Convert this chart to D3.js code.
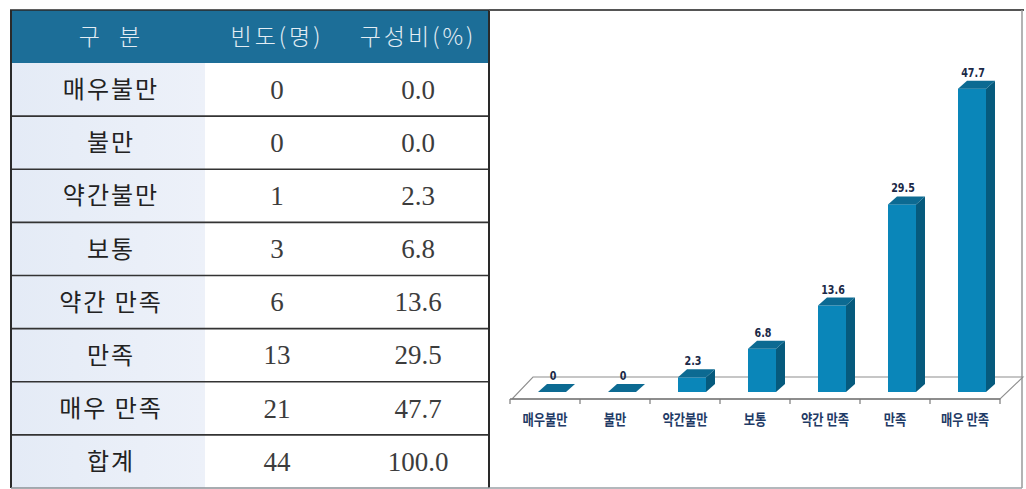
<!DOCTYPE html>
<html>
<head>
<meta charset="utf-8">
<script src="https://cdn.jsdelivr.net/npm/d3@7"></script>
<style>
  html, body { margin: 0; padding: 0; background: #ffffff; }
  svg { display: block; }
</style>
</head>
<body>
<svg id="chart" width="1026" height="489"></svg>
<script>
// ---------------- data ----------------
const categories = ["매우불만", "불만", "약간불만", "보통", "약간 만족", "만족", "매우 만족"];
const counts = [0, 0, 1, 3, 6, 13, 21];
const percents = [0.0, 0.0, 2.3, 6.8, 13.6, 29.5, 47.7];
const headers = ["구   분", "빈도(명)", "구성비(%)"];
const totalLabel = "합계";
const totalCount = 44;
const totalPercent = 100.0;

const keepSpaces = s => s.replace(/ /g, "\u00a0");

const svg = d3.select("#chart");

// ---------------- table ----------------
const tLeft = 11, tRight = 489, tTop = 10, headerBottom = 63, tBottom = 488;
const colEdges = [tLeft, 205, 347, tRight];
const colCenters = [110, 277, 418];

const rowNames = categories.concat([totalLabel]);
const rowCounts = counts.concat([totalCount]);
const rowPercents = percents.concat([totalPercent]);

const rowY = d3.scaleBand().domain(d3.range(rowNames.length)).range([headerBottom, tBottom]);

const table = svg.append("g");

// left column shading
const grad = svg.append("defs").append("linearGradient").attr("id", "colShade")
  .attr("x1", 0).attr("x2", 1).attr("y1", 0).attr("y2", 0);
grad.append("stop").attr("offset", "0%").attr("stop-color", "#e4ebf6");
grad.append("stop").attr("offset", "100%").attr("stop-color", "#edf1f9");

table.append("rect").attr("x", colEdges[0]).attr("y", headerBottom)
  .attr("width", colEdges[1] - colEdges[0]).attr("height", tBottom - headerBottom)
  .attr("fill", "url(#colShade)");

// header
table.append("rect").attr("x", tLeft).attr("y", tTop)
  .attr("width", tRight - tLeft).attr("height", headerBottom - tTop)
  .attr("fill", "#1c6e98");

table.selectAll("text.hdr").data(headers).join("text")
  .attr("class", "hdr")
  .attr("x", (d, i) => colCenters[i])
  .attr("y", (tTop + headerBottom) / 2)
  .attr("dy", "0.36em")
  .attr("text-anchor", "middle")
  .attr("font-family", "'Noto Sans CJK KR', sans-serif")
  .attr("font-size", 23)
  .attr("font-weight", 300)
  .attr("letter-spacing", (d, i) => i === 0 ? 1 : 3)
  .attr("fill", "#e3edf4")
  .text(d => keepSpaces(d));

// row separators
table.selectAll("line.sep").data(d3.range(1, rowNames.length)).join("line")
  .attr("class", "sep")
  .attr("x1", tLeft).attr("x2", tRight)
  .attr("y1", d => rowY(d)).attr("y2", d => rowY(d))
  .attr("stroke", "#333").attr("stroke-width", 1.6);

// row texts
const rows = table.selectAll("g.row").data(rowNames).join("g").attr("class", "row")
  .attr("transform", (d, i) => `translate(0,${rowY(i) + rowY.bandwidth() / 2})`);

rows.append("text")
  .attr("x", colCenters[0] + 1).attr("dy", "0.36em")
  .attr("text-anchor", "middle")
  .attr("font-family", "'Noto Sans CJK KR', sans-serif")
  .attr("font-size", 24).attr("font-weight", 400)
  .attr("letter-spacing", 2)
  .attr("fill", "#222")
  .text(d => keepSpaces(d));

rows.append("text")
  .attr("x", colCenters[1]).attr("dy", "0.34em")
  .attr("text-anchor", "middle")
  .attr("font-family", "'Liberation Serif', serif")
  .attr("font-size", 27)
  .attr("fill", "#3c3c3c")
  .text((d, i) => rowCounts[i]);

rows.append("text")
  .attr("x", colCenters[2]).attr("dy", "0.34em")
  .attr("text-anchor", "middle")
  .attr("font-family", "'Liberation Serif', serif")
  .attr("font-size", 27)
  .attr("fill", "#3c3c3c")
  .text((d, i) => rowPercents[i].toFixed(1));

// outer borders
table.append("line").attr("x1", tLeft).attr("x2", tLeft).attr("y1", tTop).attr("y2", tBottom)
  .attr("stroke", "#2a2a2a").attr("stroke-width", 2);
table.append("line").attr("x1", tRight).attr("x2", tRight).attr("y1", tTop).attr("y2", tBottom)
  .attr("stroke", "#2a2a2a").attr("stroke-width", 2);
table.append("line").attr("x1", tLeft).attr("x2", tRight).attr("y1", tBottom).attr("y2", tBottom)
  .attr("stroke", "#8a9096").attr("stroke-width", 1.5);
table.append("line").attr("x1", tLeft - 1).attr("x2", tRight).attr("y1", tTop).attr("y2", tTop)
  .attr("stroke", "#2a2a2a").attr("stroke-width", 1.5);

// chart panel border
const panel = svg.append("g");
panel.append("line").attr("x1", tRight).attr("x2", 1024).attr("y1", tTop).attr("y2", tTop)
  .attr("stroke", "#555").attr("stroke-width", 2);
panel.append("line").attr("x1", 1022).attr("x2", 1022).attr("y1", tTop).attr("y2", tBottom)
  .attr("stroke", "#9a9a9a").attr("stroke-width", 1.5);
panel.append("line").attr("x1", tRight).attr("x2", 1022).attr("y1", tBottom).attr("y2", tBottom)
  .attr("stroke", "#9aa0a6").attr("stroke-width", 1.5);

// ---------------- 3D bar chart ----------------
const x = d3.scaleBand().domain(categories).range([510, 1000]);
const baseY = 392;
const y = d3.scaleLinear().domain([0, 50]).range([baseY, 74]);

const floorFront = 399, floorDx = 23, floorDy = 22;
const [fx0, fx1] = x.range();

const chart = svg.append("g");

chart.append("polygon")
  .attr("points", [[fx0 + 2, floorFront], [fx1, floorFront], [fx1 + floorDx, floorFront - floorDy], [fx0 + floorDx, floorFront - floorDy]].map(p => p.join(",")).join(" "))
  .attr("fill", "#ffffff")
  .attr("stroke", "#8e8e8e")
  .attr("stroke-width", 1.1);

chart.append("line")
  .attr("x1", fx0).attr("x2", fx1).attr("y1", floorFront).attr("y2", floorFront)
  .attr("stroke", "#7a7a7a").attr("stroke-width", 1.6);

const tickXs = categories.map(c => x(c)).concat([fx1]);
chart.selectAll("line.tick").data(tickXs).join("line")
  .attr("class", "tick")
  .attr("x1", d => d).attr("x2", d => d)
  .attr("y1", floorFront).attr("y2", floorFront + 5)
  .attr("stroke", "#7a7a7a").attr("stroke-width", 1.2);

const barW = 28, dX = 9, dY = 8;
const barLeft = c => x(c) + x.bandwidth() / 2 - 7;

const bars = chart.selectAll("g.bar").data(categories).join("g").attr("class", "bar");

// side face
bars.append("polygon")
  .attr("points", (c, i) => {
    const l = barLeft(c) + barW, t = y(percents[i]);
    return [[l, t], [l + dX, t - dY], [l + dX, baseY - dY], [l, baseY]].map(p => p.join(",")).join(" ");
  })
  .attr("fill", "#065a7d");

// front face
bars.append("rect")
  .attr("x", c => barLeft(c))
  .attr("y", (c, i) => y(percents[i]))
  .attr("width", barW)
  .attr("height", (c, i) => baseY - y(percents[i]))
  .attr("fill", "#0a86b9");

// top face
bars.append("polygon")
  .attr("points", (c, i) => {
    const l = barLeft(c), t = y(percents[i]);
    return [[l, t], [l + dX, t - dY], [l + barW + dX, t - dY], [l + barW, t]].map(p => p.join(",")).join(" ");
  })
  .attr("fill", "#0c6a92");

// value labels
bars.append("text")
  .attr("transform", (c, i) => `translate(${barLeft(c) + barW / 2 + 1},${y(percents[i]) - dY - 4}) scale(0.82,1)`)
  .attr("text-anchor", "middle")
  .attr("font-family", "'Liberation Sans Narrow', 'DejaVu Sans Condensed', sans-serif")
  .attr("font-weight", "bold")
  .attr("font-size", 13)
  .attr("fill", "#1b2947")
  .text((c, i) => percents[i] === 0 ? "0" : percents[i].toFixed(1));

// category labels
chart.selectAll("text.cat").data(categories).join("text")
  .attr("class", "cat")
  .attr("transform", c => `translate(${x(c) + x.bandwidth() / 2},425) scale(0.82,1)`)
  .attr("text-anchor", "middle")
  .attr("font-family", "'Noto Sans CJK KR', sans-serif")
  .attr("font-weight", "bold")
  .attr("font-size", 15)
  .attr("fill", "#1f3b66")
  .text(c => keepSpaces(c));
</script>
</body>
</html>
